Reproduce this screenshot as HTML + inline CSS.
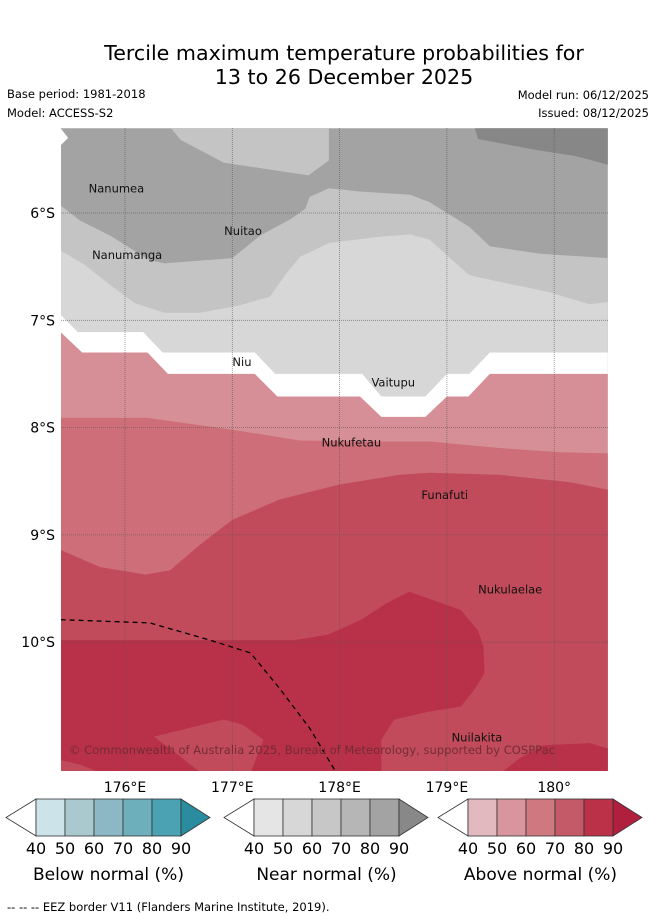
<!DOCTYPE html>
<html><head><meta charset="utf-8">
<style>
body{margin:0;background:#fff;width:655px;height:919px;overflow:hidden;font-family:"DejaVu Sans","Liberation Sans",sans-serif}
svg{position:absolute;left:0;top:0}
</style></head>
<body>
<svg id="chart" width="655" height="919" viewBox="0 0 655 919" font-family="DejaVu Sans, Liberation Sans, sans-serif">
<text x="344" y="60" font-size="20.6" text-anchor="middle">Tercile maximum temperature probabilities for</text>
<text x="344" y="84" font-size="20.6" text-anchor="middle">13 to 26 December 2025</text>
<text x="7" y="98" font-size="11.5">Base period: 1981-2018</text>
<text x="7" y="117" font-size="11.5">Model: ACCESS-S2</text>
<text x="649" y="99" font-size="11.5" text-anchor="end">Model run: 06/12/2025</text>
<text x="649" y="117" font-size="11.5" text-anchor="end">Issued: 08/12/2025</text>
<defs><clipPath id="mapclip"><rect x="61" y="128" width="547" height="643"/></clipPath></defs>
<g id="map" clip-path="url(#mapclip)"></g>
<g id="axes"></g>
<g id="cbars"></g>
<text x="7" y="911" font-size="11.5">--  --  -- EEZ border V11 (Flanders Marine Institute, 2019).</text>
</svg>
<script>
// ---- data (lon °E, lat °S) ----
const lonTicks = [176, 177, 178, 179, 180];
const lonLabels = ["176°E", "177°E", "178°E", "179°E", "180°"];
const latTicks = [6, 7, 8, 9, 10];
const latLabels = ["6°S", "7°S", "8°S", "9°S", "10°S"];
const levelNames = ["near-60-70","near-90","white-corner","near-50-60-top","near-50-60","near-40-50","none","above-50-60","above-60-70","above-70-80","above-80-90","above-70-80-patch","above-70-80-patch","above-70-80-patch","above-80-90-patch"];
const levelIdx = [0, 1, 2, 3, 4, 5, 6, 7, 8, 9, 10, 9, 9, 9, 10];
const levelColors = ["#a3a3a3","#878787","#ffffff","#c4c4c4","#c4c4c4","#d7d7d7","#ffffff","#d68f97","#cd6e78","#c14b5a","#b93149"];
const contours = [
 [[175.4,5.21],[180.5,5.21],[180.5,11.2],[175.4,11.2]],
 [[179.26,5.21],[179.29,5.31],[179.82,5.41],[180.2,5.47],[180.43,5.53],[180.5,5.55],[180.5,5.21]],
 [[175.4,5.21],[175.47,5.30],[175.4,5.37]],
 [[176.43,5.21],[176.52,5.32],[176.92,5.53],[177.71,5.65],[177.9,5.51],[177.9,5.21]],
 [[175.4,5.93],[175.58,6.07],[175.86,6.21],[176.23,6.44],[176.37,6.47],[177.0,6.42],[177.26,6.21],[177.54,6.06],[177.68,5.96],[177.72,5.85],[177.9,5.77],[178.19,5.80],[178.66,5.83],[178.84,5.90],[179.21,6.13],[179.4,6.31],[179.87,6.38],[180.5,6.42],[180.5,8.0],[175.4,8.0]],
 [[175.4,6.35],[175.62,6.48],[175.86,6.67],[176.09,6.84],[176.37,6.93],[176.7,6.93],[177.07,6.86],[177.35,6.78],[177.49,6.58],[177.63,6.41],[177.9,6.28],[178.38,6.22],[178.66,6.20],[178.84,6.25],[179.03,6.42],[179.21,6.58],[179.49,6.64],[179.96,6.74],[180.33,6.85],[180.5,6.83],[180.5,8.0],[175.4,8.0]],
 [[175.4,6.95],[175.56,7.11],[176.17,7.11],[176.35,7.30],[177.21,7.30],[177.4,7.5],[178.21,7.5],[178.39,7.71],[178.8,7.71],[179.0,7.5],[179.21,7.5],[179.4,7.30],[180.5,7.30],[180.5,11.2],[175.4,11.2]],
 [[175.4,7.11],[175.6,7.30],[176.21,7.30],[176.4,7.5],[177.21,7.5],[177.42,7.71],[178.19,7.71],[178.39,7.90],[178.8,7.90],[179.0,7.71],[179.2,7.71],[179.4,7.5],[180.5,7.5],[180.5,11.2],[175.4,11.2]],
 [[175.4,7.91],[176.21,7.91],[177.0,8.02],[177.63,8.12],[178.19,8.13],[178.84,8.13],[179.49,8.19],[180.05,8.23],[180.5,8.24],[180.5,11.2],[175.4,11.2]],
 [[175.4,9.14],[175.77,9.30],[176.19,9.37],[176.42,9.33],[176.7,9.09],[177.0,8.86],[177.44,8.67],[178.0,8.53],[178.56,8.44],[178.84,8.42],[179.49,8.44],[180.15,8.51],[180.5,8.58],[180.5,11.2],[175.4,11.2]],
 [[175.4,9.98],[177.58,9.98],[177.89,9.93],[178.2,9.79],[178.45,9.63],[178.65,9.53],[178.82,9.59],[179.13,9.70],[179.29,9.89],[179.34,10.04],[179.35,10.29],[179.25,10.45],[179.13,10.60],[178.82,10.65],[178.51,10.72],[178.39,10.91],[178.39,11.2],[175.4,11.2]],
 [[175.4,11.10],[175.58,11.14],[175.86,11.25],[175.4,11.25]],
 [[176.27,10.88],[176.92,10.72],[177.1,10.77],[177.29,10.91],[177.17,11.22],[176.71,11.22],[176.47,11.03]],
 [[178.39,11.22],[178.39,10.91],[178.51,10.72],[179.5,10.7],[179.6,11.0],[179.5,11.22]],
 [[179.5,11.22],[179.68,11.08],[179.9,10.96],[180.33,10.94],[180.5,10.99],[180.5,11.22]]
];
const eezLon = [175.4, 176.23, 176.79, 177.17, 177.44, 177.72, 177.96];
const eezLat = [9.79, 9.82, 9.98, 10.10, 10.43, 10.80, 11.20];
const islandNames = ["Nanumea","Nuitao","Nanumanga","Niu","Vaitupu","Nukufetau","Funafuti","Nukulaelae","Nuilakita"];
const islandLon = [175.92, 177.10, 176.02, 177.09, 178.50, 178.11, 178.98, 179.59, 179.28];
const islandLat = [5.77, 6.17, 6.39, 7.39, 7.58, 8.14, 8.63, 9.51, 10.89];
const cbarTicks = ["40","50","60","70","80","90"];
const cbarTitles = ["Below normal (%)","Near normal (%)","Above normal (%)"];
const cbarColors = [
 ["#cce3e9","#a9c9ce","#8cb8c5","#6eafbc","#4aa2b3","#2a8c9f"],
 ["#e5e5e5","#d7d7d7","#c7c7c7","#b6b6b6","#a3a3a3","#888888"],
 ["#e3b9c0","#d8959d","#cf7880","#c45a67","#bb3148","#b01f3d"]
];
// ---- axes ----
const X = lon => 125 + (lon - 176) * 107.3;
const Y = lat => 213 + (lat - 6) * 107.3;
const NS = "http://www.w3.org/2000/svg";
function mk(tag, attrs, parent) { const e = document.createElementNS(NS, tag); for (const k in attrs) e.setAttribute(k, attrs[k]); parent.appendChild(e); return e; }
const map = document.getElementById('map');
contours.forEach((poly, i) => {
  const p = mk('polygon', {points: poly.map(q => X(q[0]).toFixed(1) + ',' + Y(q[1]).toFixed(1)).join(' '), fill: levelColors[levelIdx[i]]}, map);
  
  
});
lonTicks.forEach(l => {
  const g = mk('line', {x1: X(l), x2: X(l), y1: 128, y2: 771, stroke: '#555', 'stroke-width': 0.8, 'stroke-dasharray': '1,1', opacity: 0.7}, map);
  
  
});
latTicks.forEach(l => {
  const g = mk('line', {x1: 61, x2: 608, y1: Y(l), y2: Y(l), stroke: '#555', 'stroke-width': 0.8, 'stroke-dasharray': '1,1', opacity: 0.7}, map);
  
  
});
const eez = mk('polyline', {points: eezLon.map((l, i) => X(l) + ',' + Y(eezLat[i])).join(' '), fill: 'none', stroke: '#000', 'stroke-width': 1.3, 'stroke-dasharray': '5,4'}, map);


islandNames.forEach((n, i) => {
  const t = mk('text', {x: X(islandLon[i]), y: Y(islandLat[i]) + 4, 'font-size': 11.5, 'text-anchor': 'middle', fill: '#111'}, map);
  t.textContent = n;
  
  
});
const cp = mk('text', {x: 69, y: 754, 'font-size': 11.5, fill: '#6b2a33', opacity: 0.9, textLength: 486}, map);
cp.textContent = '© Commonwealth of Australia 2025, Bureau of Meteorology, supported by COSPPac';


const axes = document.getElementById('axes');
lonTicks.forEach((l, i) => {
  const t = mk('text', {x: X(l), y: 792, 'font-size': 14, 'text-anchor': 'middle'}, axes);
  t.textContent = lonLabels[i];
  
  
});
latTicks.forEach((l, i) => {
  const t = mk('text', {x: 55, y: Y(l) + 5, 'font-size': 14, 'text-anchor': 'end'}, axes);
  t.textContent = latLabels[i];
  
  
});
// ---- colorbars ----
const cb = document.getElementById('cbars');
const cbX = [36, 254, 468];
cbX.forEach((x0, b) => {
  const g = mk('g', {}, cb);
  
  
  const w = 29, y0 = 799, h = 37;
  mk('polygon', {points: `${x0},${y0} ${x0-30},${y0+h/2} ${x0},${y0+h}`, fill: '#fff', stroke: '#333', 'stroke-width': 0.8}, g);
  cbarColors[b].slice(0, 5).forEach((c, i) => mk('rect', {x: x0 + i * w, y: y0, width: w, height: h, fill: c, stroke: '#333', 'stroke-width': 0.8}, g));
  mk('polygon', {points: `${x0+5*w},${y0} ${x0+5*w+29},${y0+h/2} ${x0+5*w},${y0+h}`, fill: cbarColors[b][5], stroke: '#333', 'stroke-width': 0.8}, g);
  cbarTicks.forEach((t, i) => {
    const e = mk('text', {x: x0 + i * w, y: 854, 'font-size': 16, 'text-anchor': 'middle'}, g);
    e.textContent = t;
    
    
  });
  const tt = mk('text', {x: x0 + 2.5 * w, y: 880, 'font-size': 17, 'text-anchor': 'middle'}, g);
  tt.textContent = cbarTitles[b];
  
  
});
</script>
</body></html>
